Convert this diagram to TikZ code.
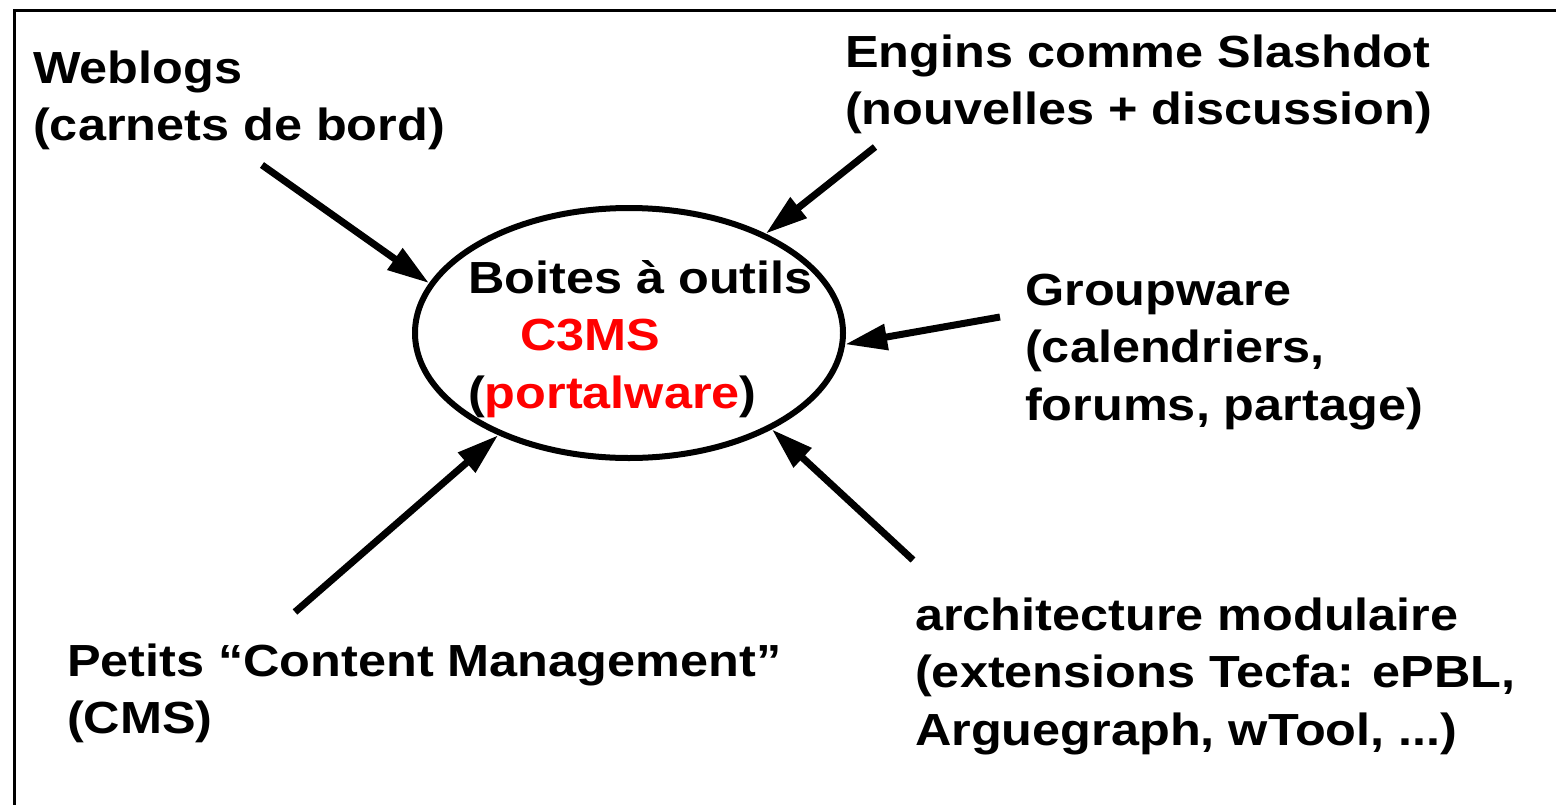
\documentclass[tikz,border=0pt]{standalone}
\usepackage{fontspec}
\setmainfont{Liberation Sans}[FakeStretch=1.12]
\usetikzlibrary{arrows.meta,shapes.geometric}
\newcommand\lblfont{\fontsize{45}{57.5}\selectfont\bfseries}
\definecolor{hotred}{RGB}{255,0,0}
\begin{document}
\begin{tikzpicture}[x=1pt,y=-1pt,
  lbl/.style={anchor=base west, inner sep=0pt, font=\lblfont},
  arr/.style={line width=7pt, -{Triangle[length=42pt,width=25pt]}},
  hub/.style={ellipse, draw, line width=6pt, minimum width=428pt, minimum height=250pt, inner sep=0pt}]
\useasboundingbox (0,0) rectangle (1556,804);
\clip (0,0) rectangle (1556,804);
\fill[white] (0,0) rectangle (1556,804);
\draw[line width=3pt] (14,830) -- (14,10) -- (1580,10);
\node[hub] (ell) at (629,333) {};
\node[lbl] (core) at (468,293) {\begin{tabular}[t]{@{}l@{}}Boites à outils\\\hspace*{52pt}\textcolor{hotred}{C3MS}\\(\textcolor{hotred}{portalware})\end{tabular}};
\node[lbl] (web) at (33,83) {\begin{tabular}[t]{@{}l@{}}Weblogs\\(carnets de bord)\end{tabular}};
\node[lbl] (slash) at (845,67) {\begin{tabular}[t]{@{}l@{}}Engins comme Slashdot\\(nouvelles + discussion)\end{tabular}};
\node[lbl] (group) at (1025,305) {\begin{tabular}[t]{@{}l@{}}Groupware\\(calendriers,\\forums, partage)\end{tabular}};
\node[lbl] (arch) at (915,630) {\begin{tabular}[t]{@{}l@{}}architecture modulaire\\(extensions Tecfa: ePBL,\\Arguegraph, wTool, ...)\end{tabular}};
\node[lbl] (cms) at (67,676) {\begin{tabular}[t]{@{}l@{}}Petits “Content Management”\\(CMS)\end{tabular}};
\coordinate (webS) at (262,165);
\coordinate (slashS) at (875,147);
\coordinate (groupS) at (1000,317);
\coordinate (cmsS) at (295,612);
\coordinate (archS) at (913,560);
\draw[arr] (webS) -- (ell.166);
\draw[arr] (slashS) -- (ell.36);
\draw[arr] (groupS) -- (ell.-3);
\draw[arr] (cmsS) -- (ell.-142);
\draw[arr] (archS) -- (ell.-34);
\end{tikzpicture}
\end{document}
